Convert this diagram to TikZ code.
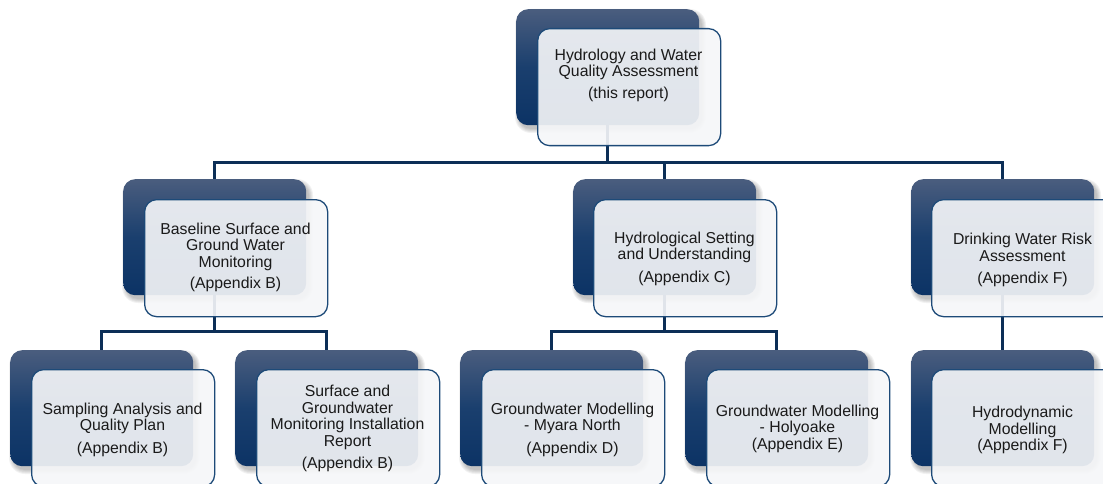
\documentclass[tikz,border=0pt]{standalone}
\usepackage{fontspec}
\setmainfont{Liberation Sans}
\definecolor{backtop}{HTML}{4A5D7E}
\definecolor{backmid}{HTML}{1A3F6E}
\definecolor{backbot}{HTML}{0C3365}
\definecolor{frontfill}{HTML}{F6F7F9}
\definecolor{frontline}{HTML}{1D4A78}
\definecolor{connc}{HTML}{0C2F57}
\definecolor{txtc}{HTML}{1A1A1A}
\begin{document}
\begin{tikzpicture}[x=1pt,y=-1pt,
  backbox/.style={anchor=north west, minimum width=183pt, minimum height=116pt, inner sep=0pt,
    rounded corners=12pt, top color=backtop, bottom color=backbot, middle color=backmid},
  frontbox/.style={anchor=north west, minimum width=183pt, minimum height=117pt, inner sep=0pt,
    rounded corners=12pt, draw=frontline, line width=1.3pt, fill=frontfill, fill opacity=0.91},
  label/.style={align=center, inner sep=0pt, text=txtc, font=\fontsize{15.8}{16.5}\selectfont},
  connector/.style={draw=connc, line width=2.6pt},
  shadowlayer/.style={fill=black, opacity=0.05}
]
\useasboundingbox (0,0) rectangle (1103,484);
\clip (0,0) rectangle (1103,484);
\fill[white] (0,0) rectangle (1103,484);

% soft shadows of the back boxes
\foreach \bx/\by in {516/9,123/179,573/179,911/179,10/350,235/350,460/350,685/350,911/350}{
  \foreach \k in {0,1,2,3,4}{
    \fill[shadowlayer, rounded corners=12pt+\k pt] (\bx+3-\k,\by+4-\k) rectangle ++(183+2*\k,116+2*\k);
  }
}

% back boxes
\node[backbox] (b0) at (516,9) {};
\node[backbox] (b1) at (123,179) {};
\node[backbox] (b2) at (573,179) {};
\node[backbox] (b3) at (911,179) {};
\node[backbox] (b4) at (10,350) {};
\node[backbox] (b5) at (235,350) {};
\node[backbox] (b6) at (460,350) {};
\node[backbox] (b7) at (685,350) {};
\node[backbox] (b8) at (911,350) {};

% connectors
\draw[connector] (b0.south) -- ++(0,37) -| (b1.north);
\draw[connector] (b0.south) -- ++(0,37) -| (b2.north);
\draw[connector] (b0.south) -- ++(0,37) -| (b3.north);
\draw[connector] (b1.south) -- ++(0,36) -| (b4.north);
\draw[connector] (b1.south) -- ++(0,36) -| (b5.north);
\draw[connector] (b2.south) -- ++(0,36) -| (b6.north);
\draw[connector] (b2.south) -- ++(0,36) -| (b7.north);
\draw[connector] (b3.south) -- (b8.north);

% front boxes
\node[frontbox] (f0) at (537,28) {};
\node[frontbox] (f1) at (144,199) {};
\node[frontbox] (f2) at (593,199) {};
\node[frontbox] (f3) at (931,199) {};
\node[frontbox] (f4) at (31,369) {};
\node[frontbox] (f5) at (256,369) {};
\node[frontbox] (f6) at (481,369) {};
\node[frontbox] (f7) at (706,369) {};
\node[frontbox] (f8) at (931,369) {};

% texts
\node[label] (t0) at (628.5,75.5) {Hydrology and Water\\Quality Assessment\\[5.5pt](this report)};
\node[label] (t1) at (235.5,257.5) {Baseline Surface and\\Ground Water\\Monitoring\\[5pt](Appendix B)};
\node[label] (t2) at (684.5,258.5) {Hydrological Setting\\and Understanding\\[6pt](Appendix C)};
\node[label] (t3) at (1022.5,260) {Drinking Water Risk\\Assessment\\[6pt](Appendix F)};
\node[label] (t4) at (122.5,429.5) {Sampling Analysis and\\Quality Plan\\[6pt](Appendix B)};
\node[label] (t5) at (347.5,428.5) {Surface and\\Groundwater\\Monitoring Installation\\Report\\[5.5pt](Appendix B)};
\node[label] (t6) at (572.5,429.5) {Groundwater Modelling\\- Myara North\\[6pt](Appendix D)};
\node[label] (t7) at (797.5,428.5) {Groundwater Modelling\\- Holyoake\\(Appendix E)};
\node[label] (t8) at (1022.5,430) {Hydrodynamic\\Modelling\\(Appendix F)};
\end{tikzpicture}
\end{document}
